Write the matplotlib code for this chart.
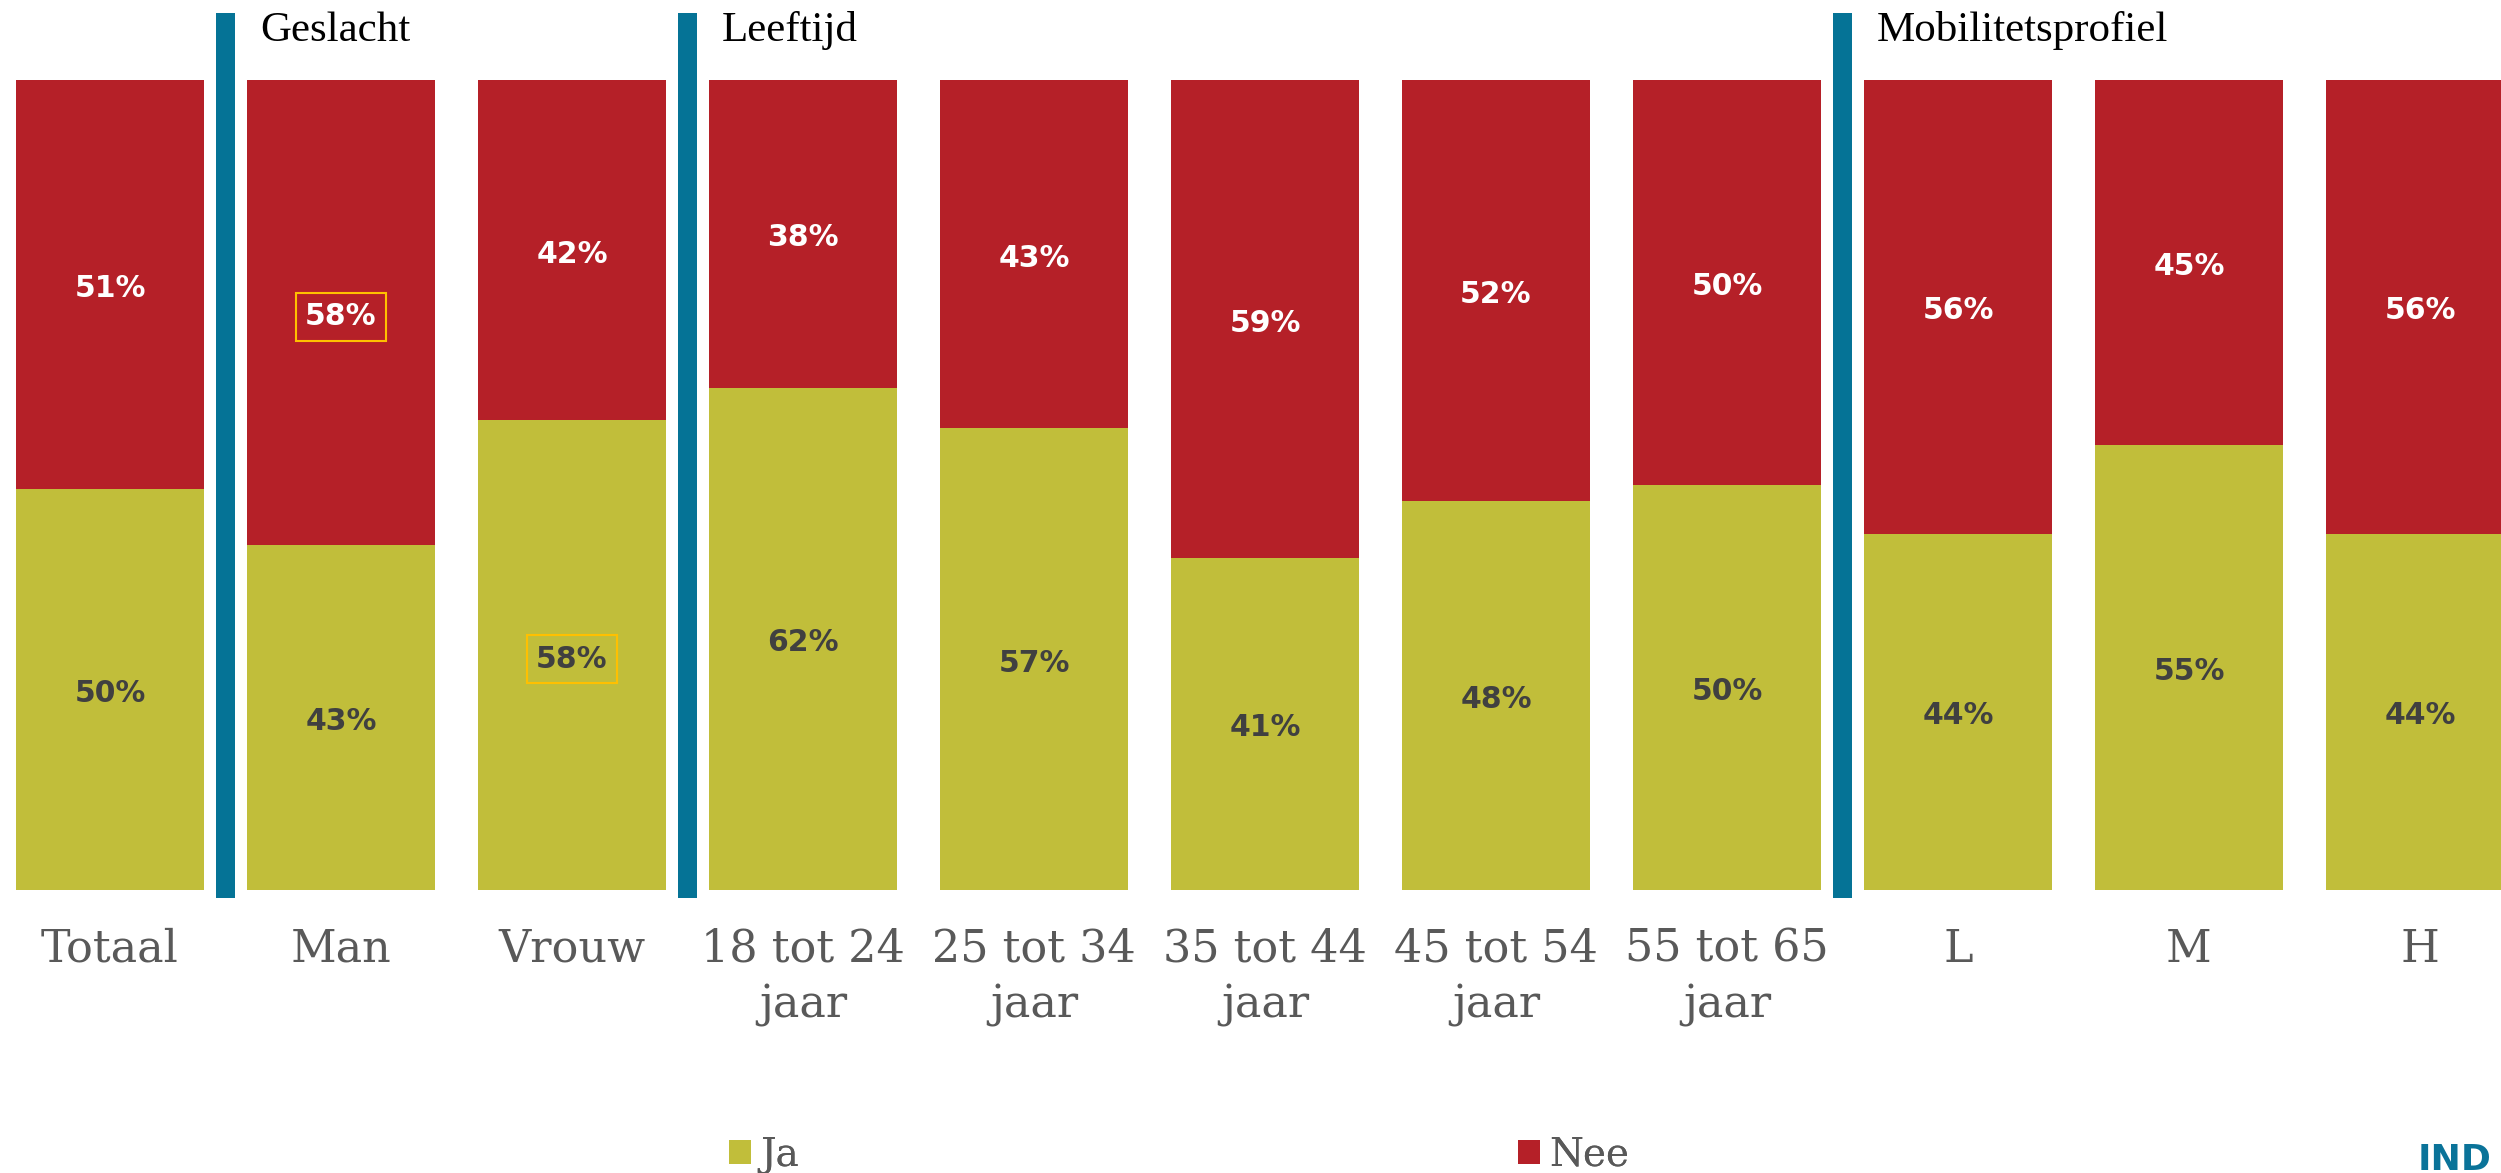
import matplotlib
matplotlib.use("Agg")
import matplotlib.pyplot as plt
from matplotlib.patches import Patch
import numpy as np

categories = ["Totaal", "Man", "Vrouw", "18 tot 24\njaar", "25 tot 34\njaar",
              "35 tot 44\njaar", "45 tot 54\njaar", "55 tot 65\njaar", "L", "M", "H"]
ja = [50, 43, 58, 62, 57, 41, 48, 50, 44, 55, 44]
nee = [51, 58, 42, 38, 43, 59, 52, 50, 56, 45, 56]
groups = ["Geslacht", "Leeftijd", "Mobilitetsprofiel"]
group_start = [1, 3, 8]          # index of first bar in each group
highlight_ja = [2]               # bars whose Ja label is boxed
highlight_nee = [1]              # bars whose Nee label is boxed
series_names = ["Ja", "Nee"]

RED = "#B52028"
OLIVE = "#C1BE3A"
BLUE = "#057396"
DARK = "#404040"
GRAY = "#595959"

W, H = 2501, 1173
fig = plt.figure(figsize=(W / 100, H / 100), dpi=100)
# axes: bars from y px 80 to 890 (from top)
ax = fig.add_axes([0, (H - 890) / H, 1, (890 - 80) / H])

pitch = 231.0
x0_px = 110.0
ax.set_xlim(-x0_px / pitch, (W - x0_px) / pitch)
ax.set_ylim(0, 1)

x = np.arange(len(categories))
ja_a = np.array(ja, dtype=float)
nee_a = np.array(nee, dtype=float)
tot = ja_a + nee_a
ja_f = ja_a / tot
nee_f = nee_a / tot

bw = 0.81
ax.bar(x, ja_f, width=bw, color=OLIVE, edgecolor="none")
ax.bar(x, nee_f, bottom=ja_f, width=bw, color=RED, edgecolor="none")

box = dict(boxstyle="square,pad=0.32", facecolor="none", edgecolor="#FFC000", linewidth=1.5)
dy = -0.005
for i in x:
    ax.text(i, ja_f[i] / 2 + dy, f"{ja[i]}%", ha="center", va="center", color=DARK,
            fontsize=21.5, fontweight="bold", family="DejaVu Sans",
            bbox=box if i in highlight_ja else None)
    ax.text(i, ja_f[i] + nee_f[i] / 2 + dy, f"{nee[i]}%", ha="center", va="center", color="white",
            fontsize=21.5, fontweight="bold", family="DejaVu Sans",
            bbox=box if i in highlight_nee else None)

# separators and group labels
sep_w = 19 / pitch
for g, s in zip(groups, group_start):
    xs = s - 0.5
    ax.bar(xs, 1.093, bottom=-0.010, width=sep_w, color=BLUE, edgecolor="none", clip_on=False)
    ax.text(xs + 0.15, 1.048, g, ha="left", va="baseline", color="black",
            fontsize=31, family="Liberation Serif")

ax.set_xticks(x)
ax.set_xticklabels(categories, fontsize=32, family="DejaVu Serif", color=GRAY, linespacing=1.38)
ax.tick_params(axis="x", length=0, pad=27)
ax.set_yticks([])
for sp in ax.spines.values():
    sp.set_visible(False)

# legend
leg_y = 1 - 1155 / H
for name, col, xl in zip(series_names, [OLIVE, RED], [729, 1518]):
    lg = fig.legend(handles=[Patch(facecolor=col, edgecolor="none", label=name)],
                    loc="center left", bbox_to_anchor=(xl / W, leg_y), frameon=False,
                    borderpad=0, borderaxespad=0, handlelength=0.56, handleheight=0.56,
                    handletextpad=0.24, prop={"family": "DejaVu Serif", "size": 28})
    for t in lg.get_texts():
        t.set_color(GRAY)
    fig.add_artist(lg)

fig.text(2418 / W, (H - 1170) / H, "IND", ha="left", va="baseline", color="#0A7399",
         fontsize=26, fontweight="bold", family="DejaVu Sans")

fig.savefig("out.png", dpi=100, facecolor="white")
